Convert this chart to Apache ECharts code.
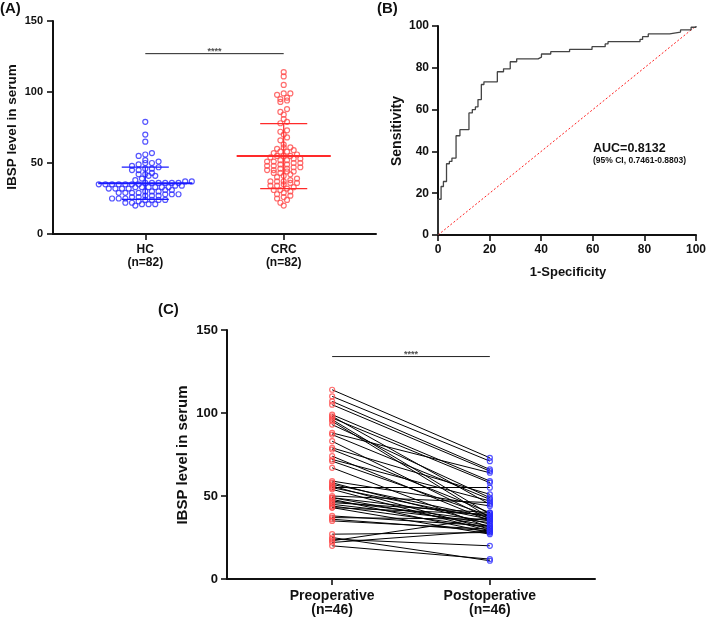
<!DOCTYPE html>
<html>
<head>
<meta charset="utf-8">
<script src="https://cdn.jsdelivr.net/npm/echarts@6/dist/echarts.min.js"></script>
<style>
html,body{margin:0;padding:0;background:#fff;}
#chart{width:709px;height:619px;}
</style>
</head>
<body>
<div id="chart"></div>
<script>
// ---------------- DATA ----------------
// Panel A: IBSP serum level, healthy controls vs colorectal cancer
const groupCategories = ['HC', 'CRC'];
const groupCounts = ['(n=82)', '(n=82)'];
const hcValues = [
  79, 70, 65, 57, 56, 55,
  52, 51, 50, 50, 49, 48,
  47, 46, 46, 45, 45,
  43, 42, 42, 41, 41,
  39, 38,
  37, 37, 36, 36, 36, 36, 36, 36, 35, 35, 35, 35, 35, 35, 35,
  34, 34, 33, 33, 33, 33, 33, 33, 32, 32, 32, 32, 31, 31,
  30, 30, 30, 29, 29, 29, 29, 28, 28, 28, 27, 27, 27,
  26, 26, 25, 25, 25, 24, 24, 24, 24, 23,
  22, 22, 21, 21, 21, 20
];
const crcValues = [
  114, 111, 105, 99, 99, 98, 96, 95, 94, 93,
  88, 86, 84, 81, 79, 78, 73, 72, 70, 68, 66, 63,
  61, 61, 60, 59, 58, 58, 57, 56, 55, 55, 55, 54,
  53, 53, 52, 52, 51, 51, 50, 50, 49, 49, 48, 48,
  47, 47, 46, 46, 45, 45, 44, 44, 43, 43, 42, 41, 40,
  39, 38, 37, 37, 37, 36, 36, 35, 34, 34, 33,
  32, 31, 31, 30, 29, 28, 27, 26, 25,
  24, 22, 20
];
const sigLevelA = 127;
const sigTextA = '****';
const yTicksA = [0, 50, 100, 150];

// Panel B: ROC curve (1-Specificity %, Sensitivity %)
const rocFpr = [0, 0, 1.2, 2.1, 3.3, 4.4, 5.4, 7.0, 8.5, 12.0, 13.3, 14.5, 15.5, 16.8, 17.8, 23.0, 25.4, 28.0, 30.5, 38.8, 40.1, 43.7, 51.0, 59.7, 64.8, 65.9, 78.3, 79.3, 81.5, 89.8, 94.0, 98.1, 100];
const rocTpr = [0, 17.1, 23.2, 25.6, 34.1, 35.2, 36.8, 47.5, 50.4, 58.4, 60.0, 61.3, 64.8, 72.0, 73.3, 78.1, 79.5, 82.9, 84.3, 85.1, 86.6, 87.7, 88.8, 90.1, 91.4, 92.5, 93.6, 94.9, 96.2, 97.1, 98.1, 99.4, 100];
const aucText = 'AUC=0.8132';
const ciText = '(95% CI, 0.7461-0.8803)';
const rocTicks = [0, 20, 40, 60, 80, 100];

// Panel C: paired pre/post-operative values
const pairCategories = ['Preoperative', 'Postoperative'];
const pairCounts = ['(n=46)', '(n=46)'];
const preValues = [114, 110, 107, 105, 99, 98, 97, 96, 95, 93, 88, 87, 83, 79, 78, 74, 72, 71, 67, 59, 58, 57, 56, 55, 55, 54, 50, 49, 49, 48, 47, 46, 45, 44, 43, 43, 38, 37, 36, 35, 27, 25, 24, 23, 22, 20];
const postValues = [73, 71, 66, 65, 59, 45, 58, 39, 37, 49, 64, 48, 36, 51, 40, 35, 47, 38, 31, 44, 33, 37, 30, 55, 36, 29, 46, 38, 32, 28, 35, 40, 34, 31, 39, 27, 32, 36, 29, 30, 28, 11, 20, 37, 29, 12];
const sigLevelC = 134;
const sigTextC = '****';
const yTicksC = [0, 50, 100, 150];

// ---------------- HELPERS ----------------
const FONT = '"Liberation Sans", Arial, sans-serif';
const RED = '#ff4a4a';
const BLUE = '#2a2aff';

function mean(a) { return a.reduce((s, v) => s + v, 0) / a.length; }
function sd(a) { const m = mean(a); return Math.sqrt(a.reduce((s, v) => s + (v - m) * (v - m), 0) / (a.length - 1)); }

// GraphPad-like binned swarm: rows of values, centred horizontally
function swarm(values, center, binH, spacing) {
  const bins = {};
  values.slice().sort((a, b) => a - b).forEach(v => {
    const k = Math.round(v / binH);
    (bins[k] = bins[k] || []).push(v);
  });
  const out = [];
  Object.keys(bins).forEach(k => {
    const row = bins[k];
    const n = row.length;
    row.forEach((v, j) => {
      out.push([center + (j - (n - 1) / 2) * spacing, v]);
    });
  });
  return out;
}

function seg(x1, y1, x2, y2, color, width, xi, yi) {
  return {
    type: 'line', xAxisIndex: xi, yAxisIndex: yi, data: [[x1, y1], [x2, y2]],
    symbol: 'none', silent: true, animation: false, z: 5,
    lineStyle: { color: color, width: width }
  };
}

function errorBars(values, center, color) {
  const m = mean(values), s = sd(values);
  return [
    seg(center - 0.34, m, center + 0.34, m, color, 2, 0, 0),
    seg(center - 0.17, m + s, center + 0.17, m + s, color, 1.2, 0, 0),
    seg(center - 0.17, m - s, center + 0.17, m - s, color, 1.2, 0, 0),
    seg(center, m - s, center, m + s, color, 1.2, 0, 0)
  ];
}

function hollow(color) {
  return { color: 'rgba(255,255,255,0)', borderColor: color, borderWidth: 1.2 };
}

function axisCommon(fontSize, margin) {
  return {
    axisLine: { show: true, onZero: false, lineStyle: { color: '#111', width: 2 } },
    axisTick: { show: true, length: 6, inside: false, lineStyle: { color: '#111', width: 1.6 } },
    axisLabel: { color: '#111', fontWeight: 'bold', fontSize: fontSize, fontFamily: FONT, margin: margin },
    splitLine: { show: false }
  };
}

// ---------------- OPTION ----------------
const spacingA = 0.048;
const hcPts = swarm(hcValues, 1, 3.3, spacingA);
const crcPts = swarm(crcValues, 2, 2.9, spacingA);

const xA = Object.assign(axisCommon(12, 9), {
  type: 'value', gridIndex: 0, min: 1 / 3, max: 8 / 3
});
xA.axisLabel = Object.assign({}, xA.axisLabel, {
  customValues: [1, 2], lineHeight: 13,
  formatter: v => { const i = Math.round(v) - 1; return groupCategories[i] + '\n' + groupCounts[i]; }
});
xA.axisTick = Object.assign({}, xA.axisTick, { customValues: [1, 2] });

const yA = Object.assign(axisCommon(11, 10), {
  type: 'value', gridIndex: 0, min: 0, max: 150, interval: 50
});

const xB = Object.assign(axisCommon(12, 9), { type: 'value', gridIndex: 1, min: 0, max: 100, interval: 20 });
const yB = Object.assign(axisCommon(12, 9), { type: 'value', gridIndex: 1, min: 0, max: 100, interval: 20 });

const xC = Object.assign(axisCommon(14, 10), {
  type: 'value', gridIndex: 2, min: 1 / 3, max: 8 / 3
});
xC.axisLabel = Object.assign({}, xC.axisLabel, {
  customValues: [1, 2], lineHeight: 14,
  formatter: v => { const i = Math.round(v) - 1; return pairCategories[i] + '\n' + pairCounts[i]; }
});
xC.axisTick = Object.assign({}, xC.axisTick, { customValues: [1, 2] });
const yC = Object.assign(axisCommon(13, 9), { type: 'value', gridIndex: 2, min: 0, max: 150, interval: 50 });

const series = [];
// Panel A
series.push({
  type: 'scatter', xAxisIndex: 0, yAxisIndex: 0, data: hcPts, symbol: 'circle', symbolSize: 5,
  itemStyle: hollow(BLUE), animation: false, z: 3
});
series.push({
  type: 'scatter', xAxisIndex: 0, yAxisIndex: 0, data: crcPts, symbol: 'circle', symbolSize: 5,
  itemStyle: hollow(RED), animation: false, z: 3
});
errorBars(hcValues, 1, '#1a1aff').forEach(s => series.push(s));
errorBars(crcValues, 2, '#ff2a2a').forEach(s => series.push(s));
series.push(seg(1, sigLevelA, 2, sigLevelA, '#222', 1, 0, 0));
series.push({
  type: 'scatter', xAxisIndex: 0, yAxisIndex: 0, data: [[1.5, sigLevelA]], symbolSize: 0, silent: true, animation: false,
  label: { show: true, position: 'top', distance: -2, formatter: sigTextA, color: '#222', fontSize: 9, fontWeight: 'bold', fontFamily: FONT }
});

// Panel B
series.push({
  type: 'line', xAxisIndex: 1, yAxisIndex: 1, data: [[0, 0], [100, 100]], symbol: 'none', silent: true, animation: false,
  lineStyle: { color: '#ff2020', width: 1, type: [2, 2] }, z: 2
});
series.push({
  type: 'line', xAxisIndex: 1, yAxisIndex: 1, step: 'end',
  data: rocFpr.map((f, i) => [f, rocTpr[i]]), symbol: 'none', silent: true, animation: false,
  lineStyle: { color: '#444', width: 1.3 }, z: 3
});

// Panel C
series.push({
  type: 'lines', coordinateSystem: 'cartesian2d', xAxisIndex: 2, yAxisIndex: 2, polyline: false, silent: true, animation: false,
  data: preValues.map((v, i) => ({ coords: [[1, v], [2, postValues[i]]] })),
  lineStyle: { color: '#000', width: 1, opacity: 1 }, z: 2
});
series.push({
  type: 'scatter', xAxisIndex: 2, yAxisIndex: 2, data: preValues.map(v => [1, v]), symbol: 'circle', symbolSize: 5,
  itemStyle: hollow(RED), animation: false, z: 4
});
series.push({
  type: 'scatter', xAxisIndex: 2, yAxisIndex: 2, data: postValues.map(v => [2, v]), symbol: 'circle', symbolSize: 5,
  itemStyle: hollow(BLUE), animation: false, z: 4
});
series.push(seg(1, sigLevelC, 2, sigLevelC, '#222', 1, 2, 2));
series.push({
  type: 'scatter', xAxisIndex: 2, yAxisIndex: 2, data: [[1.5, sigLevelC]], symbolSize: 0, silent: true, animation: false,
  label: { show: true, position: 'top', distance: -2, formatter: sigTextC, color: '#222', fontSize: 9, fontWeight: 'bold', fontFamily: FONT }
});

function txt(x, y, text, size, opts) {
  return Object.assign({
    type: 'text', x: x, y: y, silent: true,
    style: Object.assign({ text: text, fill: '#111', font: 'bold ' + size + 'px ' + FONT, textAlign: 'left', textVerticalAlign: 'top' }, (opts && opts.style) || {})
  }, (opts && opts.el) || {});
}

const option = {
  backgroundColor: '#fff',
  animation: false,
  grid: [
    { left: 53, top: 21, width: 323, height: 213 },
    { left: 438, top: 26, width: 260, height: 209 },
    { left: 227, top: 330, width: 368, height: 249 }
  ],
  xAxis: [xA, xB, xC],
  yAxis: [yA, yB, yC],
  series: series,
  graphic: [
    txt(0, 1, '(A)', 15),
    txt(377, 1, '(B)', 15),
    txt(158, 302, '(C)', 15),
    txt(12, 127, 'IBSP level in serum', 13.5, { style: { textAlign: 'center', textVerticalAlign: 'middle' }, el: { rotation: Math.PI / 2 } }),
    txt(397, 131, 'Sensitivity', 14, { style: { textAlign: 'center', textVerticalAlign: 'middle' }, el: { rotation: Math.PI / 2 } }),
    txt(568, 272, '1-Specificity', 13, { style: { textAlign: 'center', textVerticalAlign: 'middle' } }),
    txt(183, 455, 'IBSP level in serum', 15, { style: { textAlign: 'center', textVerticalAlign: 'middle' }, el: { rotation: Math.PI / 2 } }),
    txt(593, 142, aucText, 12.5),
    txt(593, 156, ciText, 8.5)
  ]
};

const chart = echarts.init(document.getElementById('chart'), null, { renderer: 'canvas' });
chart.setOption(option);
</script>
</body>
</html>
